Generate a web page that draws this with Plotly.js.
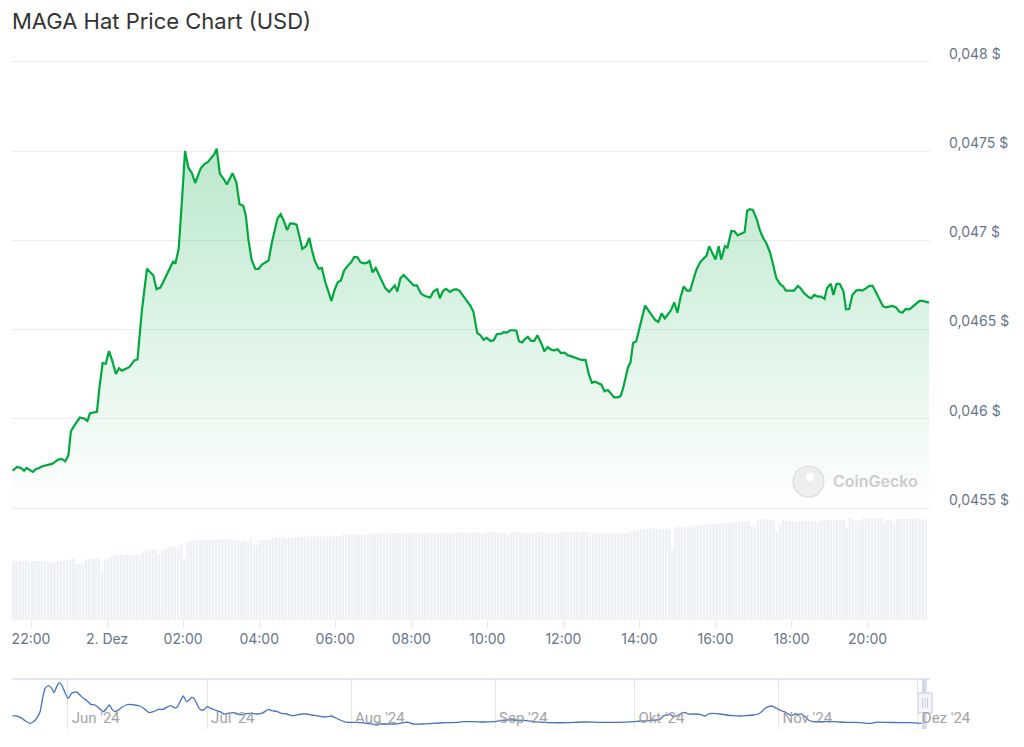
<!DOCTYPE html>
<html>
<head>
<meta charset="utf-8">
<script src="https://cdn.plot.ly/plotly-3.0.1.min.js"></script>
<style>html,body{margin:0;padding:0;background:#fff;}#chart{width:1024px;height:747px;}</style>
</head>
<body>
<div id="chart"></div>
<script>
// ---- main price series (time stamps, 2024) ----
const priceTimes = ['12-01 21:31','12-01 21:38','12-01 21:44','12-01 21:49','12-01 21:53','12-01 21:57','12-01 22:03','12-01 22:08','12-01 22:13','12-01 22:18','12-01 22:25','12-01 22:33','12-01 22:38','12-01 22:43','12-01 22:48','12-01 22:54','12-01 22:59','12-01 23:03','12-01 23:08','12-01 23:12','12-01 23:17','12-01 23:24','12-01 23:29','12-01 23:33','12-01 23:38','12-01 23:44','12-01 23:48','12-01 23:53','12-01 23:58',
'12-02 00:03','12-02 00:08','12-02 00:14','12-02 00:19','12-02 00:23','12-02 00:28','12-02 00:35','12-02 00:39','12-02 00:43','12-02 00:48','12-02 00:55','12-02 01:03','12-02 01:08','12-02 01:13','12-02 01:18','12-02 01:24','12-02 01:29','12-02 01:34','12-02 01:39','12-02 01:44','12-02 01:48','12-02 01:53','12-02 01:58',
'12-02 02:03','12-02 02:08','12-02 02:14','12-02 02:19','12-02 02:23','12-02 02:28','12-02 02:34','12-02 02:39','12-02 02:44','12-02 02:49','12-02 02:53','12-02 02:58','12-02 03:04','12-02 03:09','12-02 03:14','12-02 03:18','12-02 03:24','12-02 03:29','12-02 03:35','12-02 03:39','12-02 03:43','12-02 03:48','12-02 03:54','12-02 03:59',
'12-02 04:04','12-02 04:09','12-02 04:15','12-02 04:20','12-02 04:25','12-02 04:29','12-02 04:34','12-02 04:39','12-02 04:44','12-02 04:49','12-02 04:54','12-02 04:59','12-02 05:04','12-02 05:08','12-02 05:14','12-02 05:19','12-02 05:23','12-02 05:28','12-02 05:34','12-02 05:39','12-02 05:44','12-02 05:49','12-02 05:54','12-02 05:59',
'12-02 06:04','12-02 06:09','12-02 06:14','12-02 06:19','12-02 06:25','12-02 06:30','12-02 06:35','12-02 06:40','12-02 06:46','12-02 06:50','12-02 06:54','12-02 06:59','12-02 07:04','12-02 07:09','12-02 07:14','12-02 07:19','12-02 07:25','12-02 07:29','12-02 07:34','12-02 07:38','12-02 07:43','12-02 07:48','12-02 07:54','12-02 07:59',
'12-02 08:04','12-02 08:09','12-02 08:15','12-02 08:20','12-02 08:25','12-02 08:30','12-02 08:35','12-02 08:41','12-02 08:45','12-02 08:50','12-02 08:55','12-02 09:01','12-02 09:06','12-02 09:11','12-02 09:16','12-02 09:22','12-02 09:27','12-02 09:33','12-02 09:38','12-02 09:44','12-02 09:49','12-02 09:54','12-02 09:59',
'12-02 10:05','12-02 10:10','12-02 10:15','12-02 10:22','12-02 10:26','12-02 10:31','12-02 10:36','12-02 10:42','12-02 10:46','12-02 10:50','12-02 10:55','12-02 10:59','12-02 11:04','12-02 11:09','12-02 11:14','12-02 11:19','12-02 11:25','12-02 11:30','12-02 11:35','12-02 11:41','12-02 11:46','12-02 11:51','12-02 11:56',
'12-02 12:02','12-02 12:07','12-02 12:12','12-02 12:17','12-02 12:23','12-02 12:28','12-02 12:35','12-02 12:40','12-02 12:45','12-02 12:50','12-02 12:56','12-02 13:00','12-02 13:05','12-02 13:10','12-02 13:15','12-02 13:20','12-02 13:26','12-02 13:30','12-02 13:34','12-02 13:38','12-02 13:42','12-02 13:46','12-02 13:50','12-02 13:55',
'12-02 14:00','12-02 14:06','12-02 14:09','12-02 14:15','12-02 14:20','12-02 14:25','12-02 14:30','12-02 14:35','12-02 14:40','12-02 14:45','12-02 14:50','12-02 14:55','12-02 15:00','12-02 15:05','12-02 15:10','12-02 15:15','12-02 15:20','12-02 15:25','12-02 15:30','12-02 15:36','12-02 15:42','12-02 15:46','12-02 15:50','12-02 15:55',
'12-02 16:00','12-02 16:05','12-02 16:09','12-02 16:15','12-02 16:19','12-02 16:25','12-02 16:30','12-02 16:35','12-02 16:40','12-02 16:46','12-02 16:50','12-02 16:54','12-02 16:59','12-02 17:05','12-02 17:10','12-02 17:15','12-02 17:20','12-02 17:26','12-02 17:31','12-02 17:36','12-02 17:42','12-02 17:47','12-02 17:51','12-02 17:57',
'12-02 18:04','12-02 18:10','12-02 18:15','12-02 18:20','12-02 18:26','12-02 18:31','12-02 18:36','12-02 18:42','12-02 18:47','12-02 18:52','12-02 18:56','12-02 19:02','12-02 19:06','12-02 19:11','12-02 19:16','12-02 19:22','12-02 19:26','12-02 19:31','12-02 19:36','12-02 19:42','12-02 19:47','12-02 19:52','12-02 19:57',
'12-02 20:03','12-02 20:08','12-02 20:13','12-02 20:18','12-02 20:24','12-02 20:29','12-02 20:34','12-02 20:39','12-02 20:45','12-02 20:50','12-02 20:55','12-02 21:00','12-02 21:06','12-02 21:11','12-02 21:16','12-02 21:22','12-02 21:27','12-02 21:32','12-02 21:37'];

const priceUSD = [0.045709,0.045730,0.045724,0.045709,0.045724,0.045715,0.045702,0.045719,0.045724,0.045734,0.045739,0.045747,0.045758,0.045771,0.045775,0.045762,0.045796,0.045931,0.045960,0.045982,0.046007,0.046001,0.045988,0.046031,0.046033,0.046039,0.046176,0.046312,0.046308,
0.046379,0.046327,0.046251,0.046283,0.046270,0.046278,0.046289,0.046308,0.046327,0.046332,0.046609,0.046841,0.046820,0.046803,0.046726,0.046735,0.046769,0.046807,0.046839,0.046880,0.046873,0.046952,0.047212,
0.047500,0.047409,0.047376,0.047321,0.047357,0.047404,0.047428,0.047438,0.047460,0.047481,0.047513,0.047372,0.047344,0.047312,0.047347,0.047376,0.047325,0.047202,0.047193,0.047136,0.047005,0.046892,0.046839,0.046839,
0.046863,0.046873,0.046888,0.046986,0.047071,0.047123,0.047146,0.047108,0.047057,0.047095,0.047093,0.047088,0.047014,0.046952,0.046967,0.047014,0.046948,0.046882,0.046841,0.046845,0.046769,0.046713,0.046660,0.046722,
0.046765,0.046775,0.046830,0.046854,0.046877,0.046907,0.046905,0.046877,0.046871,0.046873,0.046884,0.046820,0.046845,0.046807,0.046769,0.046732,0.046711,0.046730,0.046747,0.046713,0.046788,0.046805,0.046786,0.046765,
0.046747,0.046747,0.046703,0.046690,0.046684,0.046679,0.046713,0.046726,0.046675,0.046716,0.046728,0.046711,0.046722,0.046726,0.046718,0.046688,0.046669,0.046634,0.046600,0.046481,0.046468,0.046443,0.046453,
0.046436,0.046440,0.046474,0.046477,0.046485,0.046483,0.046496,0.046496,0.046492,0.046434,0.046427,0.046445,0.046459,0.046436,0.046436,0.046468,0.046425,0.046378,0.046402,0.046387,0.046383,0.046389,0.046368,
0.046370,0.046355,0.046351,0.046346,0.046336,0.046330,0.046330,0.046251,0.046201,0.046208,0.046195,0.046191,0.046154,0.046161,0.046142,0.046120,0.046120,0.046127,0.046167,0.046233,0.046289,0.046317,0.046425,0.046434,
0.046515,0.046594,0.046634,0.046605,0.046575,0.046553,0.046543,0.046590,0.046562,0.046587,0.046609,0.046652,0.046594,0.046684,0.046741,0.046718,0.046718,0.046779,0.046835,0.046878,0.046897,0.046914,0.046967,0.046924,
0.046892,0.046967,0.046892,0.046967,0.046959,0.047052,0.047050,0.047027,0.047037,0.047046,0.047165,0.047174,0.047170,0.047118,0.047057,0.047014,0.046986,0.046933,0.046863,0.046788,0.046754,0.046741,0.046718,0.046718,
0.046718,0.046745,0.046728,0.046703,0.046684,0.046675,0.046694,0.046684,0.046684,0.046671,0.046732,0.046756,0.046694,0.046756,0.046756,0.046713,0.046613,0.046615,0.046694,0.046718,0.046722,0.046718,0.046730,
0.046745,0.046745,0.046713,0.046675,0.046632,0.046624,0.046628,0.046632,0.046624,0.046600,0.046594,0.046615,0.046613,0.046628,0.046643,0.046660,0.046660,0.046654,0.046651];

// ---- volume bars (5-minute buckets, USD millions, estimated) ----
const volumeStart = '2024-12-01 21:32';
const volumeM = [1.18,1.18,1.19,1.18,1.19,1.15,1.18,1.18,1.18,1.17,
1.17,1.17,1.14,1.15,1.17,1.19,1.18,1.20,1.21,1.23,
1.12,1.12,1.12,1.21,1.23,1.22,1.23,1.24,0.97,1.21,
1.23,1.28,1.30,1.30,1.30,1.30,1.30,1.30,1.30,1.30,
1.30,1.36,1.39,1.41,1.41,1.41,1.32,1.40,1.43,1.45,
1.47,1.47,1.47,1.52,1.23,1.55,1.57,1.59,1.60,1.60,
1.60,1.60,1.60,1.60,1.62,1.62,1.62,1.62,1.62,1.60,
1.59,1.60,1.57,1.60,1.55,1.62,1.50,1.50,1.60,1.60,
1.60,1.60,1.63,1.65,1.65,1.64,1.62,1.65,1.65,1.65,
1.66,1.67,1.67,1.67,1.67,1.67,1.67,1.67,1.67,1.67,
1.67,1.67,1.67,1.67,1.70,1.71,1.71,1.71,1.71,1.71,
1.71,1.71,1.73,1.73,1.73,1.73,1.73,1.73,1.73,1.72,
1.74,1.74,1.74,1.74,1.74,1.75,1.75,1.75,1.74,1.75,
1.75,1.75,1.75,1.74,1.75,1.75,1.75,1.75,1.75,1.74,
1.75,1.75,1.75,1.75,1.75,1.75,1.75,1.74,1.73,1.76,
1.76,1.76,1.76,1.76,1.75,1.74,1.70,1.75,1.76,1.76,
1.75,1.75,1.75,1.75,1.74,1.75,1.75,1.75,1.75,1.75,
1.73,1.74,1.75,1.76,1.76,1.76,1.76,1.76,1.76,1.76,
1.76,1.76,1.74,1.73,1.73,1.73,1.73,1.73,1.73,1.73,
1.73,1.73,1.73,1.73,1.75,1.76,1.78,1.80,1.81,1.82,
1.83,1.83,1.83,1.82,1.82,1.83,1.83,1.82,1.40,1.85,
1.86,1.86,1.86,1.87,1.88,1.89,1.89,1.90,1.90,1.91,
1.92,1.92,1.93,1.93,1.94,1.94,1.95,1.96,1.96,1.96,
1.96,1.97,1.99,1.87,1.86,2.01,2.01,2.01,2.01,2.00,
1.99,1.77,1.90,2.01,1.99,1.98,1.97,1.98,1.97,1.98,
1.97,1.98,1.97,1.98,1.96,1.99,1.99,2.00,2.00,2.00,
2.01,2.01,2.01,1.85,2.03,2.00,1.97,2.00,2.02,2.03,
2.03,2.03,2.03,2.03,2.03,1.97,2.00,2.01,1.90,2.02,
2.02,2.02,2.03,2.02,2.03,2.03,2.03,2.01,2.01];

// ---- navigator (long-term price, estimated) ----
const navDates = ['05-20 03:00','05-21 00:00','05-21 21:00','05-22 19:00','05-23 21:00','05-24 14:00','05-25 07:00','05-26 01:00','05-26 14:00','05-27 03:00','05-27 20:00','05-28 13:00','05-29 01:00','05-29 15:00','05-30 05:00','05-30 17:00','05-31 10:00',
'06-01 03:00','06-01 20:00','06-02 22:00','06-03 15:00','06-04 09:00','06-05 05:00','06-05 23:00','06-06 21:00','06-07 18:00','06-08 16:00','06-09 09:00','06-09 23:00','06-10 13:00','06-11 04:00','06-11 21:00','06-12 15:00','06-13 13:00','06-14 10:00','06-15 12:00','06-16 13:00','06-17 15:00','06-18 14:00','06-19 10:00','06-20 12:00','06-21 14:00','06-22 07:00','06-23 04:00','06-23 21:00','06-24 11:00','06-25 04:00','06-25 21:00','06-26 14:00','06-27 04:00','06-27 16:00','06-28 04:00','06-28 18:00','06-29 11:00','06-30 05:00',
'07-01 01:00','07-01 18:00','07-02 17:00','07-03 19:00','07-04 15:00','07-05 14:00','07-06 16:00','07-07 12:00','07-08 11:00','07-09 12:00','07-10 14:00','07-11 16:00','07-12 18:00','07-13 11:00','07-14 05:00','07-14 22:00','07-15 23:00','07-17 01:00','07-18 03:00','07-19 05:00','07-20 07:00','07-21 09:00','07-22 11:00','07-23 12:00','07-24 14:00','07-26 01:00','07-27 02:00','07-27 20:00','07-28 13:00','07-29 15:00','07-31 01:00',
'08-01 12:00','08-02 22:00','08-04 08:00','08-05 19:00','08-07 05:00','08-08 16:00','08-10 02:00','08-11 13:00','08-12 15:00','08-13 08:00','08-14 10:00','08-15 20:00','08-18 17:00','08-21 14:00','08-23 18:00','08-25 04:00','08-27 08:00','08-29 11:00','08-31 15:00',
'09-02 01:00','09-03 12:00','09-04 22:00','09-07 19:00','09-09 06:00','09-11 09:00','09-12 20:00','09-16 10:00','09-20 00:00','09-23 14:00','09-27 04:00','09-30 18:00',
'10-02 05:00','10-04 08:00','10-05 19:00','10-06 12:00','10-07 05:00','10-07 23:00','10-08 16:00','10-09 09:00','10-10 02:00','10-11 04:00','10-11 21:00','10-12 14:00','10-13 16:00','10-15 03:00','10-16 05:00','10-16 22:00','10-18 00:00','10-19 10:00','10-20 21:00','10-22 07:00','10-23 18:00','10-25 04:00','10-26 14:00','10-27 16:00','10-28 09:00','10-29 03:00','10-29 20:00','10-30 13:00','10-31 06:00',
'11-01 00:00','11-01 17:00','11-02 10:00','11-03 03:00','11-03 20:00','11-04 14:00','11-05 07:00','11-06 00:00','11-06 17:00','11-07 11:00','11-08 12:00','11-09 23:00','11-12 20:00','11-15 17:00','11-17 03:00','11-18 13:00','11-20 00:00','11-21 02:00','11-21 19:00','11-24 07:00','11-27 04:00','11-29 08:00','12-01 20:00'];

const navPrice = [0.0742,0.0730,0.0670,0.0562,0.0466,0.0526,0.0646,0.0886,0.1366,0.1726,0.1822,0.1726,0.1570,0.1786,0.1930,0.1846,0.1570,
0.1366,0.1546,0.1594,0.1486,0.1366,0.1270,0.1150,0.1126,0.1006,0.0886,0.1006,0.1126,0.0970,0.0886,0.0946,0.1042,0.1126,0.1150,0.1126,0.1090,0.0970,0.0850,0.0886,0.0970,0.0970,0.1042,0.1102,0.1030,0.1030,0.1246,0.1450,0.1246,0.1306,0.1402,0.1366,0.1186,0.0970,0.0946,
0.1066,0.1006,0.0946,0.0886,0.0802,0.0826,0.0850,0.0802,0.0778,0.0814,0.0826,0.0802,0.0826,0.0886,0.0970,0.0922,0.0898,0.0826,0.0802,0.0742,0.0766,0.0802,0.0802,0.0766,0.0742,0.0694,0.0706,0.0730,0.0670,0.0586,0.0502,
0.0502,0.0490,0.0466,0.0430,0.0442,0.0442,0.0442,0.0466,0.0502,0.0502,0.0442,0.0442,0.0466,0.0490,0.0502,0.0526,0.0526,0.0514,0.0526,
0.0562,0.0586,0.0586,0.0562,0.0526,0.0502,0.0490,0.0490,0.0514,0.0502,0.0502,0.0526,
0.0550,0.0562,0.0586,0.0610,0.0730,0.0766,0.0790,0.0706,0.0730,0.0826,0.0862,0.0802,0.0802,0.0790,0.0730,0.0802,0.0826,0.0802,0.0766,0.0742,0.0730,0.0742,0.0766,0.0802,0.0886,0.1006,0.1066,0.1090,0.1042,
0.0970,0.0910,0.0874,0.0802,0.0742,0.0802,0.0790,0.0802,0.0706,0.0586,0.0526,0.0526,0.0526,0.0502,0.0502,0.0490,0.0466,0.0466,0.0502,0.0502,0.0490,0.0490,0.0466];

// ---- axis ticks / labels ----
const priceTicks = [0.0455, 0.046, 0.0465, 0.047, 0.0475, 0.048];
const priceTickText = ['0,0455 $', '0,046 $', '0,0465 $', '0,047 $', '0,0475 $', '0,048 $'];
const timeTicks = ['12-01 22:00','12-02 00:00','12-02 02:00','12-02 04:00','12-02 06:00','12-02 08:00','12-02 10:00','12-02 12:00','12-02 14:00','12-02 16:00','12-02 18:00','12-02 20:00'];
const timeTickText = ['22:00','2. Dez','02:00','04:00','06:00','08:00','10:00','12:00','14:00','16:00','18:00','20:00'];
const navTicks = ['06-01','07-01','08-01','09-01','10-01','11-01','12-01'];
const navTickText = ["Jun '24","Jul '24","Aug '24","Sep '24","Okt '24","Nov '24","Dez '24"];
const chartTitle = 'MAGA Hat Price Chart (USD)';

// ---- build ----
const Y = '2024-';
const px = priceTimes.map(t => Y + t);
const pad = n => String(n).padStart(2, '0');
const vStart = new Date(volumeStart.replace(' ', 'T') + ':00Z').getTime();
const vx = volumeM.map((_, i) => {
  const d = new Date(vStart + i * 5 * 60000);
  return d.getUTCFullYear() + '-' + pad(d.getUTCMonth() + 1) + '-' + pad(d.getUTCDate()) + ' ' + pad(d.getUTCHours()) + ':' + pad(d.getUTCMinutes());
});
const nx = navDates.map(t => Y + t);

// layout geometry (pixels)
const L = 12, R = 930, T = 60, B = 729;
const W = R - L, H = B - T;
const fx = p => (p - L) / W;
const fy = p => (B - p) / H;

const labelColor = '#66758b';
const green = '#00a83e';

const traces = [
  {
    type: 'bar', x: vx, y: volumeM, xaxis: 'x', yaxis: 'y2',
    marker: { color: '#edf0f4', line: { width: 0 } },
    hoverinfo: 'skip'
  },
  {
    type: 'scatter', mode: 'lines', x: px, y: priceUSD, xaxis: 'x', yaxis: 'y',
    line: { color: green, width: 2.2, shape: 'linear' },
    fill: 'tozeroy',
    fillgradient: {
      type: 'vertical', start: 0.04549, stop: 0.04755,
      colorscale: [[0, 'rgba(0,168,62,0)'], [1, 'rgba(0,168,62,0.27)']]
    },
    hoverinfo: 'skip'
  },
  {
    type: 'scatter', mode: 'lines', x: nx, y: navPrice, xaxis: 'x2', yaxis: 'y3',
    line: { color: '#4670c4', width: 1.3, shape: 'spline', smoothing: 0.6 },
    hoverinfo: 'skip'
  }
];

const layout = {
  width: 1024, height: 747,
  margin: { l: L, r: 1024 - R, t: T, b: 747 - B, pad: 0 },
  paper_bgcolor: '#ffffff', plot_bgcolor: 'rgba(0,0,0,0)',
  showlegend: false,
  bargap: 0.22,
  font: { family: 'Inter, "Open Sans", sans-serif', color: labelColor },
  title: {
    text: chartTitle, xref: 'container', yref: 'container',
    x: 12 / 1024, xanchor: 'left', y: 1 - 21 / 747, yanchor: 'middle',
    font: { family: 'Inter, sans-serif', size: 22, color: '#333333' }
  },
  xaxis: {
    type: 'date', domain: [0, 1], anchor: 'y2',
    range: ['2024-12-01 21:30', '2024-12-02 21:38:30'],
    tickvals: timeTicks.map(t => Y + t), ticktext: timeTickText,
    ticks: 'outside', ticklen: 6, tickcolor: '#e3e7ec', tickwidth: 1,
    showgrid: false, zeroline: false, showline: false,
    tickfont: { family: 'Inter, sans-serif', size: 14, color: labelColor }
  },
  yaxis: {
    domain: [fy(509.8), 1], anchor: 'x', side: 'right',
    range: [0.04549, 0.04801],
    tickvals: priceTicks, ticktext: priceTickText,
    ticks: '', ticklabelstandoff: 18, ticklabelshift: -8,
    showgrid: true, gridcolor: '#eceef1', gridwidth: 1, zeroline: false, showline: false,
    tickfont: { family: 'Inter, sans-serif', size: 14, color: labelColor }
  },
  yaxis2: {
    domain: [fy(620), fy(509.8)], anchor: 'x', range: [0, 2.204],
    showgrid: false, zeroline: false, showticklabels: false, ticks: ''
  },
  xaxis2: {
    type: 'date', domain: [0, 1], anchor: 'y3',
    range: ['2024-05-20 00:00', '2024-12-03 15:00'],
    tickvals: navTicks.map(t => Y + t), ticktext: navTickText,
    ticks: '', ticklabelposition: 'inside right', ticklabeloverflow: 'allow',
    ticklabelshift: 4, ticklabelstandoff: -3,
    showgrid: true, gridcolor: '#e6e6e6', gridwidth: 1, zeroline: false, showline: false,
    tickfont: { family: 'Roboto, sans-serif', size: 15, color: '#a3a3a3' }
  },
  yaxis3: {
    domain: [0, fy(679)], anchor: 'x2', range: [0.0262, 0.2062],
    showgrid: false, zeroline: false, showticklabels: false, ticks: ''
  },
  shapes: [
    // navigator top outline
    { type: 'line', xref: 'paper', yref: 'paper', x0: 0, x1: 1, y0: fy(679), y1: fy(679), line: { color: '#d9dfe8', width: 1.5 } },
    // navigator selected range (the main chart's time span)
    { type: 'rect', layer: 'below', xref: 'x2', yref: 'paper', x0: px[0], x1: px[px.length - 1], y0: 0, y1: fy(679), fillcolor: 'rgba(102,133,194,0.3)', line: { width: 0 } },
    // handle
    { type: 'rect', layer: 'below', xref: 'paper', yref: 'paper', x0: fx(918), x1: fx(932), y0: fy(713), y1: fy(693), fillcolor: '#f4f5f8', line: { color: '#c5cedb', width: 1 } },
    { type: 'line', layer: 'below', xref: 'paper', yref: 'paper', x0: fx(922.5), x1: fx(922.5), y0: fy(708), y1: fy(698), line: { color: '#c5cedb', width: 1 } },
    { type: 'line', layer: 'below', xref: 'paper', yref: 'paper', x0: fx(925), x1: fx(925), y0: fy(708), y1: fy(698), line: { color: '#c5cedb', width: 1 } },
    { type: 'line', layer: 'below', xref: 'paper', yref: 'paper', x0: fx(927.5), x1: fx(927.5), y0: fy(708), y1: fy(698), line: { color: '#c5cedb', width: 1 } },
    // watermark logo
    { type: 'circle', xref: 'paper', yref: 'paper', x0: fx(793), x1: fx(824), y0: fy(497), y1: fy(466), fillcolor: 'rgba(225,225,225,0.55)', line: { color: 'rgba(205,205,205,0.6)', width: 1.2 } },
    { type: 'circle', xref: 'paper', yref: 'paper', x0: fx(806), x1: fx(814), y0: fy(481), y1: fy(473), fillcolor: 'rgba(255,255,255,0.9)', line: { width: 0 } }
  ],
  annotations: [
    { text: 'CoinGecko', xref: 'paper', yref: 'paper', x: fx(831), y: fy(481), xanchor: 'left', yanchor: 'middle', showarrow: false,
      font: { family: 'Inter, sans-serif', size: 16, color: '#cccccc', weight: 600 } }
  ]
};

Plotly.newPlot('chart', traces, layout, { staticPlot: true, displayModeBar: false });
</script>
</body>
</html>
